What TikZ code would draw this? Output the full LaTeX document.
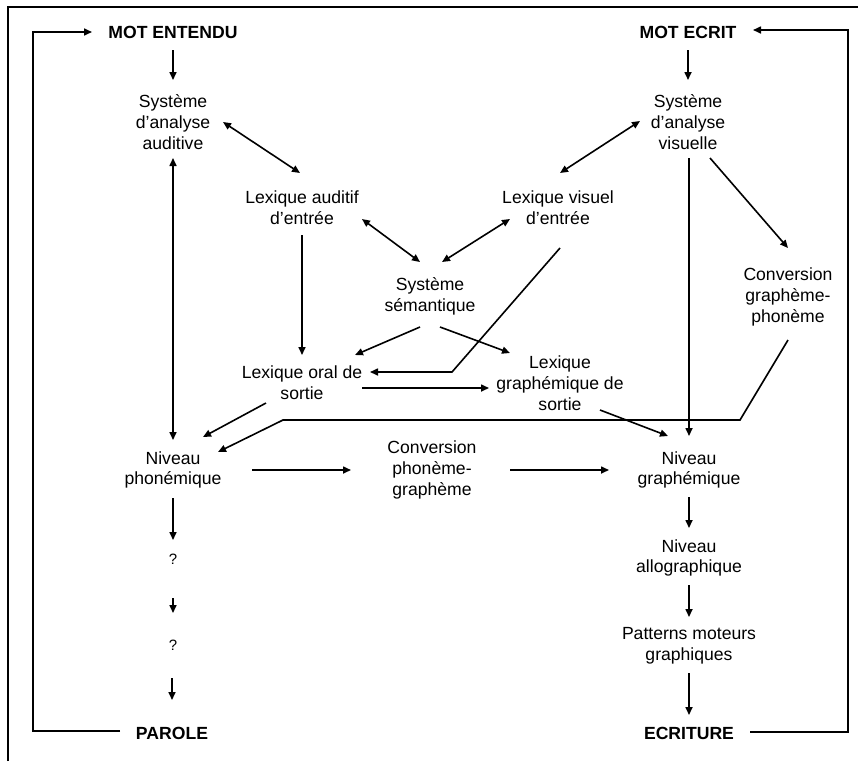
\documentclass[tikz,border=0pt]{standalone}
\usepackage{fontspec}
\setmainfont{Liberation Sans}
\usetikzlibrary{arrows.meta,calc}
\begin{document}
\begin{tikzpicture}[x=1pt,y=-1pt,
  lbl/.style={inner sep=0pt, align=center, font=\fontsize{17.6}{20.8}\selectfont},
  qm/.style={inner sep=0pt, font=\fontsize{15}{18}\selectfont},
  capt/.style={inner sep=0pt, font=\fontsize{17.6}{20.8}\selectfont\bfseries},
  arr/.style={-{Triangle[length=8pt,width=7pt]}, line width=1.6pt},
  dbl/.style={{Triangle[length=8pt,width=7pt]}-{Triangle[length=8pt,width=7pt]}, line width=1.6pt},
  framel/.style={line width=1.2pt}]
\useasboundingbox (0,0) rectangle (858,761);
\draw[framel] (8,761) -- (8,7) -- (858,7);

\node[capt] (mte) at (173,32) {MOT ENTENDU};
\node[lbl] (saa) at (173,122) {Système\\d’analyse\\auditive};
\node[lbl] (lae) at (302,208) {Lexique auditif\\d’entrée};
\node[lbl] (ss) at (430,296) {Système\\sémantique};
\node[lbl] (lve) at (558,208) {Lexique visuel\\d’entrée};
\node[capt] (mtc) at (688,32) {MOT ECRIT};
\node[lbl] (sav) at (688,122) {Système\\d’analyse\\visuelle};
\node[lbl] (cgp) at (788,297) {Conversion\\graphème-\\phonème};
\node[lbl] (los) at (302,383) {Lexique oral de\\sortie};
\node[lbl] (lgs) at (560,383) {Lexique\\graphémique de\\sortie};
\node[lbl] (np) at (173,470) {Niveau\\phonémique};
\node[lbl] (cpg) at (432,470) {Conversion\\phonème-\\graphème};
\node[lbl] (ng) at (689,470) {Niveau\\graphémique};
\node[qm] (q1) at (173,559) {?};
\node[qm] (q2) at (173,645) {?};
\node[lbl] (na) at (689,558) {Niveau\\allographique};
\node[lbl] (pmg) at (689,646) {Patterns moteurs\\graphiques};
\node[capt] (par) at (172,733) {PAROLE};
\node[capt] (ecr) at (689,733) {ECRITURE};

\coordinate (b1) at (740,420);
\coordinate (b2) at (283,420);
\coordinate (b3) at (452,372);
\coordinate (c1) at (33,731);
\coordinate (c2) at (33,32);
\coordinate (c3) at (848,732);
\coordinate (c4) at (848,30);

\draw[arr] ($(mte)+(0,18)$) -- ($(saa)+(0,-42)$);
\draw[dbl] ($(saa)+(50,0)$) -- ($(lae)+(-2,-35)$);
\draw[dbl] ($(saa)+(0,36)$) -- ($(np)+(0,-30)$);
\draw[arr] ($(lae)+(0,27)$) -- ($(los)+(0,-28)$);
\draw[dbl] ($(lae)+(60,11)$) -- ($(ss)+(-10,-34)$);
\draw[dbl] ($(lve)+(-48,11)$) -- ($(ss)+(12,-34)$);
\draw[dbl] ($(lve)+(2,-35)$) -- ($(sav)+(-48,-1)$);
\draw[arr] ($(mtc)+(0,18)$) -- ($(sav)+(0,-42)$);
\draw[arr] ($(sav)+(1,36)$) -- ($(ng)+(0,-34)$);
\draw[arr] ($(sav)+(22,36)$) -- ($(cgp)+(0,-49)$);
\draw[arr] ($(cgp)+(0,43)$) -- (b1) -- (b2) -- ($(np)+(45,-18)$);
\draw[arr] ($(lve)+(2,40)$) -- (b3) -- ($(los)+(68,-11)$);
\draw[arr] ($(ss)+(-10,31)$) -- ($(los)+(53,-28)$);
\draw[arr] ($(ss)+(10,31)$) -- ($(lgs)+(-50,-30)$);
\draw[arr] ($(los)+(60,5)$) -- ($(lgs)+(-71,5)$);
\draw[arr] ($(lgs)+(40,27)$) -- ($(ng)+(-21,-34)$);
\draw[arr] ($(los)+(-36,20)$) -- ($(np)+(30,-33)$);
\draw[arr] ($(np)+(79,0)$) -- ($(cpg)+(-81,0)$);
\draw[arr] ($(cpg)+(78,0)$) -- ($(ng)+(-80,0)$);
\draw[arr] ($(np)+(0,28)$) -- ($(q1)+(0,-19)$);
\draw[arr] ($(q1)+(0,39)$) -- ($(q2)+(0,-32)$);
\draw[arr] ($(q2)+(-1,33)$) -- ($(q2)+(-1,55)$);
\draw[arr] ($(par)+(-52,-2)$) -- (c1) -- (c2) -- ($(mte)+(-81,0)$);
\draw[arr] ($(ng)+(0,27)$) -- ($(na)+(0,-30)$);
\draw[arr] ($(na)+(0,27)$) -- ($(pmg)+(0,-29)$);
\draw[arr] ($(pmg)+(0,27)$) -- ($(ecr)+(0,-18)$);
\draw[arr] ($(ecr)+(61,-1)$) -- (c3) -- (c4) -- ($(mtc)+(65,-2)$);
\end{tikzpicture}
\end{document}
